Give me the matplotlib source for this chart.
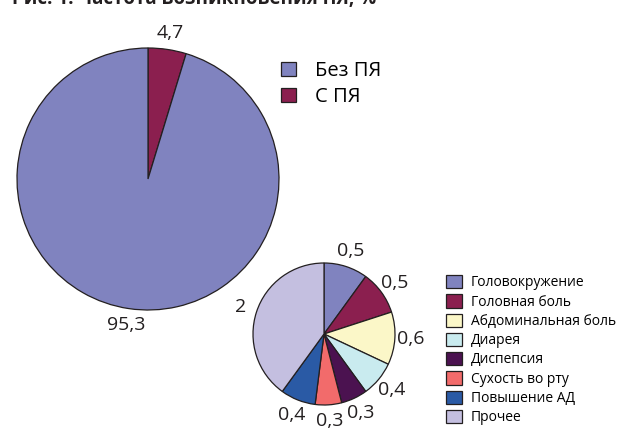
import matplotlib.pyplot as plt

plt.rcParams['font.family'] = ['Open Sans', 'DejaVu Sans']

# data
title = "Рис. 1. Частота возникновения ПЯ, %"
main_labels = ["С ПЯ", "Без ПЯ"]
main_values = [4.7, 95.3]
main_colors = ["#8b1f4f", "#8083bf"]

ae_labels = ["Головокружение", "Головная боль", "Абдоминальная боль", "Диарея",
             "Диспепсия", "Сухость во рту", "Повышение АД", "Прочее"]
ae_values = [0.5, 0.5, 0.6, 0.4, 0.3, 0.3, 0.4, 2]
ae_colors = ["#8083bf", "#8b1f4f", "#fbf7c8", "#c9ebef",
             "#4b1250", "#f26b6b", "#2a5aa5", "#c4bfe0"]

def fmt(v):
    return ("%g" % v).replace(".", ",")

W, H = 619, 428
fig = plt.figure(figsize=(W / 100, H / 100), dpi=100)
ax = fig.add_axes([0, 0, 1, 1])

wedge_kw = dict(edgecolor='#231f20', linewidth=0.9)
txt_kw = dict(fontsize=14, color='#231f20')

# big pie (image coords: center 148,179 r 131)
big, big_txt = ax.pie(main_values, colors=main_colors, labels=[fmt(v) for v in main_values],
                      startangle=90, counterclock=False, center=(148, H - 179), radius=131,
                      labeldistance=1.13, wedgeprops=wedge_kw, frame=True, textprops=txt_kw)

# small pie
small, small_txt = ax.pie(ae_values, colors=ae_colors, labels=[fmt(v) for v in ae_values],
                          startangle=90, counterclock=False, center=(324, H - 334), radius=71,
                          labeldistance=1.23, wedgeprops=wedge_kw, frame=True, textprops=txt_kw)
for t in list(big_txt) + list(small_txt):
    t.set_ha('center')
    t.set_va('center')

ax.set_xlim(0, W)
ax.set_ylim(0, H)
ax.set_aspect('equal')
ax.axis('off')

# legends
leg1 = ax.legend([big[1], big[0]], [main_labels[1], main_labels[0]], loc='upper left',
                 bbox_to_anchor=(281 / W, 1 - 61 / H), frameon=False, fontsize=14.5,
                 handlelength=0.75, handleheight=0.75, handletextpad=0.95, labelspacing=0.3,
                 borderpad=0, borderaxespad=0)
ax.add_artist(leg1)
ax.legend(small, ae_labels, loc='upper left', bbox_to_anchor=(446 / W, 1 - 275 / H),
          frameon=False, fontsize=10, handlelength=1.15, handleheight=1.1,
          handletextpad=0.65, labelspacing=0.28, borderpad=0, borderaxespad=0)

# title (cut at the top edge in the source)
fig.text(12 / W, 1 - 4 / H, title, fontsize=13.5, fontweight='bold', ha='left',
         va='baseline', color='#231f20')

fig.savefig('out.png', dpi=100)
